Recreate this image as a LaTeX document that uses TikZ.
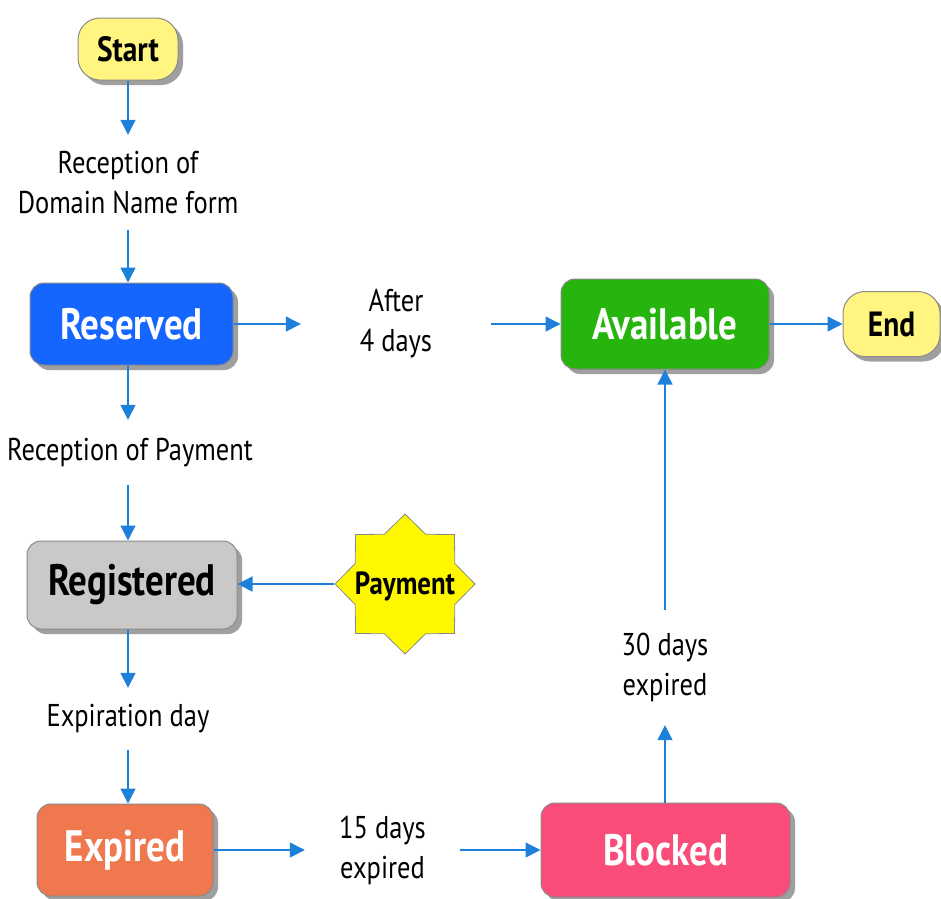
\documentclass[tikz,border=0pt]{standalone}
\usepackage{fontspec}
\newfontfamily\labfont[FakeStretch=0.84]{PT Sans}
\usetikzlibrary{arrows.meta,shapes.geometric,shadows}
\definecolor{arrowblue}{HTML}{1F80DB}
\definecolor{termyellow}{HTML}{FFF580}
\definecolor{resblue}{HTML}{1565FF}
\definecolor{availgreen}{HTML}{26B50C}
\definecolor{reggray}{HTML}{C9C9C9}
\definecolor{exporange}{HTML}{F0784E}
\definecolor{blockpink}{HTML}{F94C78}
\definecolor{payyellow}{HTML}{FFF700}
\definecolor{bordergray}{HTML}{8A8A8A}
\tikzset{
  statebox/.style={draw=bordergray, line width=1pt, rounded corners=14pt, inner sep=0pt,
    font=\labfont\bfseries\fontsize{44}{48}\selectfont, text=white,
    drop shadow={shadow xshift=5pt, shadow yshift=-5pt, fill=gray!75, opacity=1}},
  termbox/.style={statebox, rounded corners=22pt, fill=termyellow, text=black,
    font=\labfont\bfseries\fontsize{35}{38}\selectfont},
  translabel/.style={inner sep=0pt, align=center, font=\labfont\fontsize{31.5}{40}\selectfont},
  flow/.style={draw=arrowblue, line width=1.4pt, -{Triangle[length=15pt,width=15pt]}},
}
\begin{document}
\begin{tikzpicture}[x=1pt,y=-1pt]
\useasboundingbox (0,0) rectangle (941,898);
\clip (0,0) rectangle (941,898);
% states
\node[termbox, minimum width=100pt, minimum height=62pt] (start) at (128,49) {Start};
\node[statebox, fill=resblue, minimum width=203pt, minimum height=82pt] (reserved) at (131.5,324) {Reserved};
\node[statebox, fill=availgreen, minimum width=208pt, minimum height=90pt] (available) at (665,324) {Available};
\node[termbox, minimum width=97pt, minimum height=65pt] (end) at (891.5,324) {End};
\node[statebox, fill=reggray, text=black, minimum width=210pt, minimum height=88pt] (registered) at (132,585) {Registered};
\node[statebox, fill=exporange, minimum width=176pt, minimum height=92pt] (expired) at (125,850) {Expired};
\node[statebox, fill=blockpink, minimum width=249pt, minimum height=94pt] (blocked) at (665.5,850) {Blocked};
\node[draw=bordergray, line width=0.8pt, fill=payyellow, shape=star, star points=8, star point ratio=1.3,
  minimum size=140pt, inner sep=0pt, font=\labfont\bfseries\fontsize{32}{34}\selectfont] (payment) at (405,584)
  {\smash{\raisebox{-10pt}{\makebox[0pt]{Payment}}}};
% transition labels
\node[translabel, minimum height=95pt] (lab1) at (128,182.5) {Reception of\\Domain Name form};
\node[translabel, minimum height=65pt] (lab2) at (130,452.5) {Reception of Payment};
\node[translabel, minimum height=62pt] (lab3) at (128,719) {Expiration day};
\node[translabel, minimum width=190pt] (lab4) at (396,324) {After\\4 days};
\node[translabel, minimum width=155pt] (lab5) at (382.5,850) {15 days\\expired};
\node[translabel, minimum height=115pt] (lab6) at (665,667.5) {30 days\\expired};
% connectors
\draw[flow] (start.south) -- (start.south |- lab1.north);
\draw[flow] (lab1.south) -- (lab1.south |- reserved.north);
\draw[flow] (reserved.east) -- (lab4.west);
\draw[flow] (lab4.east) -- (available.west);
\draw[flow] (available.east) -- (end.west);
\draw[flow] (reserved.south -| lab1) -- (lab2.north -| lab1);
\draw[flow] (lab2.south -| lab1) -- (registered.north -| lab1);
\draw[flow] (payment.west) -- (payment.west -| registered.east);
\draw[flow] (registered.south -| lab1) -- (lab3.north -| lab1);
\draw[flow] (lab3.south -| lab1) -- (expired.north -| lab1);
\draw[flow] (expired.east) -- (lab5.west);
\draw[flow] (lab5.east) -- (blocked.west);
\draw[flow] (blocked.north -| lab6) -- (lab6.south);
\draw[flow] (lab6.north) -- (available.south -| lab6);
\end{tikzpicture}
\end{document}
